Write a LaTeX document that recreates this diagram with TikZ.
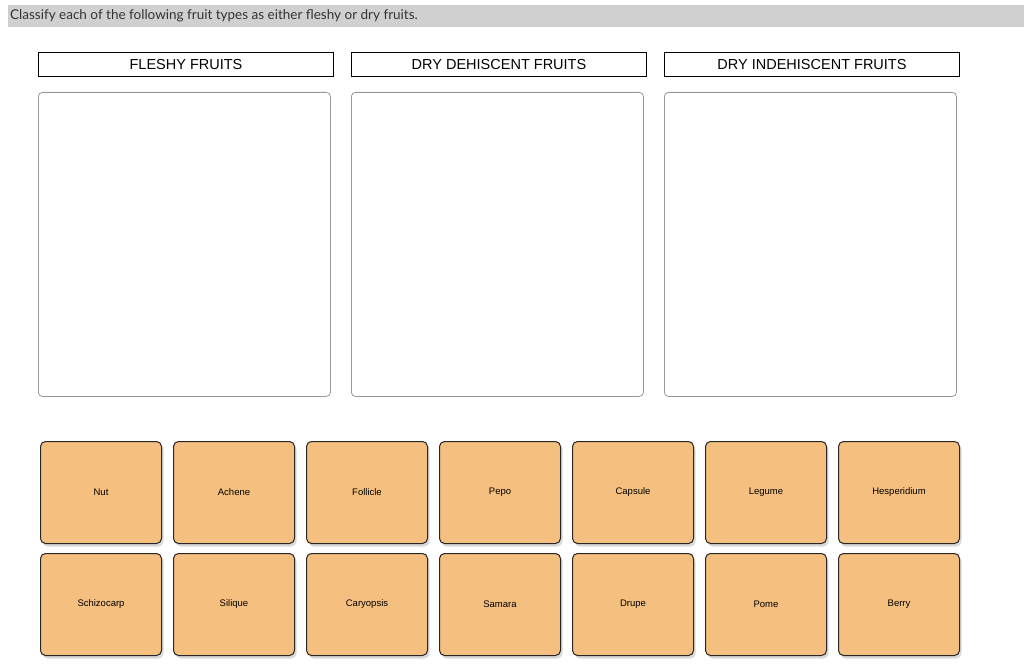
\documentclass[tikz,border=0pt]{standalone}
\usepackage{fontspec}
\setmainfont{Liberation Sans}
\newfontfamily\headfont{Lato}
\usetikzlibrary{shadows}
\definecolor{tile}{HTML}{F5C07F}
\definecolor{bar}{HTML}{D0D0D0}
\tikzset{x=1pt,y=-1pt,
 hdr/.style={draw=black,line width=1pt,minimum width=295pt,minimum height=24pt,inner sep=0pt,font=\fontsize{14.5}{16}\selectfont,anchor=north west},
 drop/.style={draw=gray!80,line width=0.8pt,rounded corners=4pt,minimum width=292pt,minimum height=304pt,inner sep=0pt,anchor=north west},
 tilebox/.style={draw=black!85,fill=tile,line width=1pt,rounded corners=5pt,minimum width=121pt,minimum height=102pt,inner sep=0pt,anchor=north west,font=\fontsize{9.5}{11}\selectfont,drop shadow={shadow xshift=2pt,shadow yshift=-3pt,opacity=0.3}}}
\begin{document}
\begin{tikzpicture}
\useasboundingbox (0,0) rectangle (1024,668);
\fill[bar] (8,5) rectangle (1024,27);
\node[anchor=west,inner sep=0pt,font=\headfont\fontsize{13.5}{15}\selectfont,text=black!80] (q) at (10,16) {Classify each of the following fruit types as either fleshy or dry fruits.};
\node[hdr] (h1) at (38,52) {FLESHY FRUITS};
\node[hdr] (h2) at (351,52) {DRY DEHISCENT FRUITS};
\node[hdr] (h3) at (664,52) {DRY INDEHISCENT FRUITS};
\node[drop] (d1) at (38,92) {};
\node[drop] (d2) at (351,92) {};
\node[drop] (d3) at (664,92) {};
\foreach \t [count=\i from 0] in {Nut,Achene,Follicle,Pepo,Capsule,Legume,Hesperidium}
  \node[tilebox] (a\i) at (40+133*\i,441) {\t};
\foreach \t [count=\i from 0] in {Schizocarp,Silique,Caryopsis,Samara,Drupe,Pome,Berry}
  \node[tilebox] (b\i) at (40+133*\i,553) {\t};
\end{tikzpicture}
\end{document}
